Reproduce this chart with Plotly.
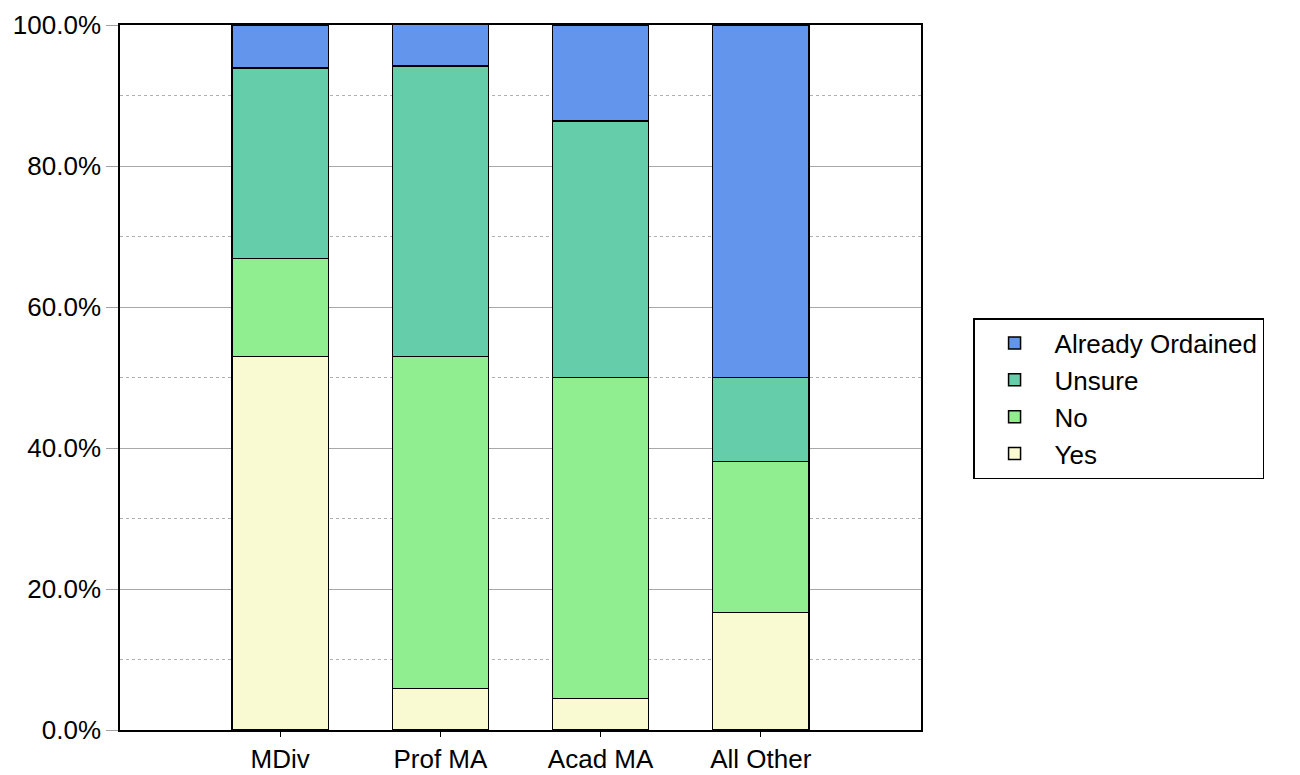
#stacked percentage bars by degree program
import plotly.graph_objects as go

programs = ["MDiv", "Prof MA", "Acad MA", "All Other"]
yes = [0.530, 0.059, 0.045, 0.167]
no = [0.139, 0.471, 0.455, 0.214]
unsure = [0.270, 0.412, 0.364, 0.119]
already = [0.061, 0.059, 0.136, 0.500]

series = [
    ("Yes", yes, "lightgoldenrodyellow"),
    ("No", no, "lightgreen"),
    ("Unsure", unsure, "mediumaquamarine"),
    ("Already Ordained", already, "cornflowerblue"),
]

fig = go.Figure()
for name, vals, col in series:
    fig.add_trace(go.Bar(x=programs, y=vals, name=name, width=0.6,
                         marker=dict(color=col, line=dict(color="black", width=1.5))))

font = "Liberation Sans, Arial, sans-serif"
# page body has an 8px margin, so the figure is a bit smaller than the window
fig.update_layout(
    barmode="stack",
    width=1292, height=767,
    margin=dict(l=112, r=379, t=17, b=45),
    plot_bgcolor="white", paper_bgcolor="white",
    font=dict(family=font, size=26, color="black"),
    legend=dict(x=1.065, y=0.47, xanchor="left", yanchor="middle",
                traceorder="reversed", bordercolor="black", borderwidth=1.5,
                font=dict(size=26), tracegroupgap=0, itemwidth=70),
    showlegend=True,
)
fig.update_xaxes(range=[-1, 4], showline=True, linecolor="black", linewidth=1.5,
                 mirror=True, ticks="outside", ticklen=5, tickcolor="black",
                 showgrid=False, automargin=False)
fig.update_yaxes(range=[0, 1], tickformat=".1%", dtick=0.2, showline=True,
                 linecolor="black", linewidth=1.5, mirror=True,
                 ticks="outside", ticklen=12, tickcolor="#a0a0a0",
                 showgrid=True, gridcolor="#a8a8a8", gridwidth=1,
                 minor=dict(dtick=0.1, showgrid=True, gridcolor="#b0b0b0",
                            griddash="dot", gridwidth=1),
                 zeroline=False, automargin=False)

fig.write_html("out.html")
